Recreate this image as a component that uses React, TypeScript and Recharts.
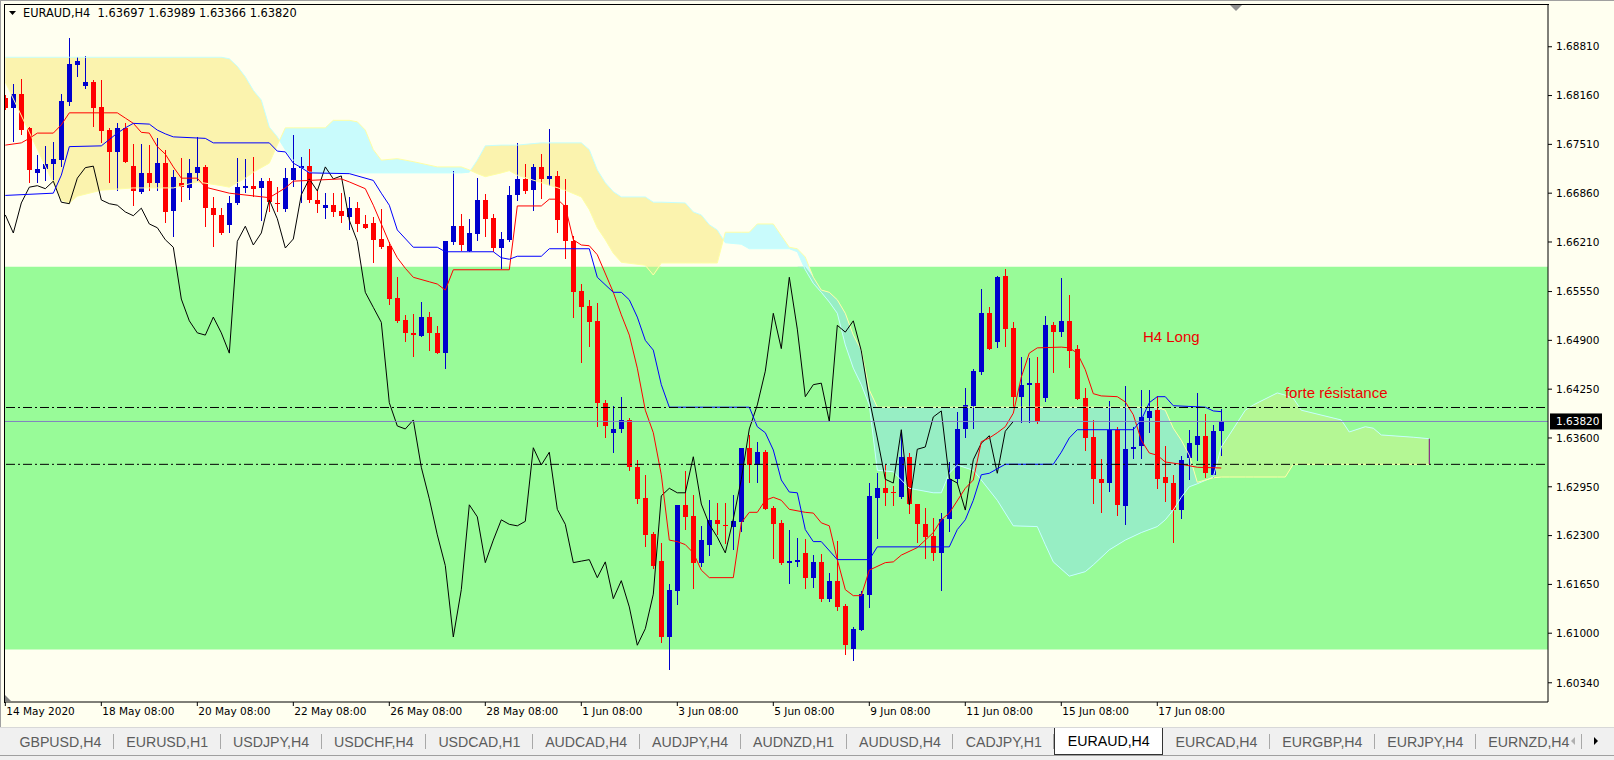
import React from "react";
import { ComposedChart, Bar, Line, Area, XAxis, YAxis, ReferenceDot, Label } from "recharts";

// EURAUD H4 candles, one per bar (index 0 = first visible bar)
const opens = [
  1.6813, 1.6799, 1.6818, 1.6773, 1.6713, 1.6718, 1.6725, 1.673, 1.6807, 1.6857,
  1.6829, 1.6834, 1.6801, 1.677, 1.6741, 1.6773, 1.6722, 1.6688, 1.6713, 1.67,
  1.6726, 1.6662, 1.67, 1.6693, 1.6713, 1.6721, 1.6666, 1.6657, 1.6644, 1.6673,
  1.6693, 1.6696, 1.6693, 1.6702, 1.6673, 1.6665, 1.6703, 1.672, 1.6722, 1.6677,
  1.6666, 1.667, 1.6662, 1.6654, 1.6666, 1.6645, 1.6646, 1.6625, 1.6616, 1.6546,
  1.6517, 1.65, 1.6496, 1.6521, 1.65, 1.6473, 1.6621, 1.6642, 1.6609, 1.6632,
  1.6677, 1.6653, 1.6613, 1.6623, 1.6684, 1.6705, 1.669, 1.6721, 1.6705, 1.6709,
  1.667, 1.6622, 1.6556, 1.6536, 1.6516, 1.6407, 1.6367, 1.6372, 1.6384, 1.6321,
  1.628, 1.6232, 1.6196, 1.6095, 1.6156, 1.6271, 1.6256, 1.6194, 1.6218, 1.6251,
  1.6244, 1.6241, 1.6248, 1.6347, 1.6324, 1.6341, 1.6267, 1.6247, 1.6194, 1.6195,
  1.6207, 1.6174, 1.6195, 1.6146, 1.617, 1.6136, 1.6079, 1.6104, 1.6151, 1.628,
  1.6293, 1.6288, 1.6281, 1.6335, 1.6272, 1.6245, 1.6229, 1.6207, 1.6252, 1.6305,
  1.6372, 1.6403, 1.6448, 1.6526, 1.6488, 1.6576, 1.6506, 1.6415, 1.6431, 1.6433,
  1.6413, 1.651, 1.6501, 1.6516, 1.6479, 1.6413, 1.6361, 1.6306, 1.63, 1.6371,
  1.6269, 1.6345, 1.6349, 1.6387, 1.6397, 1.6308, 1.63, 1.6264, 1.6333, 1.6351,
  1.6363, 1.6311, 1.63697,
];
const highs = [
  1.6817, 1.6831, 1.6838, 1.6774, 1.6737, 1.6749, 1.6754, 1.6818, 1.6893, 1.6867,
  1.6869, 1.6837, 1.6837, 1.6773, 1.6779, 1.6779, 1.6751, 1.6751, 1.675, 1.6759,
  1.6743, 1.6717, 1.6733, 1.6731, 1.6761, 1.6723, 1.6681, 1.6666, 1.6682, 1.6733,
  1.6731, 1.6734, 1.6706, 1.6706, 1.6694, 1.672, 1.6763, 1.6734, 1.6745, 1.669,
  1.6686, 1.6686, 1.6686, 1.6681, 1.6674, 1.6657, 1.6654, 1.6665, 1.6621, 1.6574,
  1.6524, 1.6525, 1.6541, 1.6528, 1.6509, 1.6622, 1.6715, 1.6658, 1.6652, 1.6706,
  1.6685, 1.6658, 1.6634, 1.6695, 1.6753, 1.6725, 1.6725, 1.6738, 1.6771, 1.6715,
  1.6705, 1.6629, 1.6565, 1.6544, 1.654, 1.6411, 1.6403, 1.6415, 1.6387, 1.6331,
  1.6311, 1.6235, 1.622, 1.6166, 1.6271, 1.6316, 1.6284, 1.6243, 1.6277, 1.6273,
  1.6273, 1.6284, 1.6347, 1.6364, 1.6355, 1.6344, 1.6269, 1.6251, 1.6238, 1.6227,
  1.6225, 1.6204, 1.6206, 1.618, 1.6223, 1.6139, 1.6108, 1.6156, 1.63, 1.6313,
  1.6324, 1.6296, 1.6369, 1.634, 1.6272, 1.6267, 1.6253, 1.626, 1.6328, 1.6395,
  1.6427, 1.6452, 1.6558, 1.6534, 1.6576, 1.6585, 1.6514, 1.6468, 1.6466, 1.6468,
  1.6522, 1.6514, 1.6573, 1.655, 1.6484, 1.6427, 1.6384, 1.6332, 1.6409, 1.6375,
  1.6429, 1.6375, 1.6424, 1.6424, 1.6416, 1.6349, 1.6311, 1.6336, 1.6371, 1.642,
  1.6392, 1.6377, 1.63989,
];
const lows = [
  1.6797, 1.6754, 1.6763, 1.67, 1.67, 1.6703, 1.6703, 1.6721, 1.6802, 1.6841,
  1.6825, 1.6774, 1.6753, 1.67, 1.6689, 1.6726, 1.6668, 1.6685, 1.6689, 1.6689,
  1.6646, 1.6628, 1.6674, 1.6677, 1.6703, 1.6641, 1.6614, 1.663, 1.6633, 1.667,
  1.6686, 1.6681, 1.6649, 1.6661, 1.6661, 1.6662, 1.6694, 1.6673, 1.6673, 1.666,
  1.6652, 1.6654, 1.6646, 1.6637, 1.6634, 1.6638, 1.6593, 1.6612, 1.6537, 1.6513,
  1.6488, 1.6468, 1.6494, 1.6476, 1.6472, 1.6452, 1.6617, 1.6609, 1.6608, 1.6622,
  1.6628, 1.6608, 1.6585, 1.662, 1.6676, 1.6685, 1.6662, 1.6678, 1.6695, 1.6632,
  1.6598, 1.652, 1.646, 1.6482, 1.6375, 1.6361, 1.634, 1.6367, 1.6317, 1.6272,
  1.6215, 1.6186, 1.6087, 1.6051, 1.6138, 1.6238, 1.6159, 1.6188, 1.6203, 1.6231,
  1.6219, 1.6211, 1.6235, 1.63, 1.6301, 1.6264, 1.6199, 1.6191, 1.6166, 1.6188,
  1.6159, 1.616, 1.6142, 1.6142, 1.613, 1.6071, 1.6063, 1.6103, 1.6134, 1.6225,
  1.6269, 1.6269, 1.6279, 1.6259, 1.622, 1.6199, 1.6196, 1.6156, 1.6235, 1.63,
  1.636, 1.6372, 1.6443, 1.6477, 1.648, 1.6481, 1.6401, 1.638, 1.6379, 1.6379,
  1.6408, 1.6446, 1.6494, 1.6453, 1.6411, 1.6343, 1.6272, 1.626, 1.6288, 1.6256,
  1.6244, 1.6332, 1.6332, 1.6367, 1.6292, 1.6275, 1.622, 1.6252, 1.6305, 1.6329,
  1.6307, 1.6307, 1.63366,
];
const closes = [
  1.6799, 1.6818, 1.677, 1.6717, 1.6718, 1.6725, 1.6731, 1.6809, 1.6858, 1.6862,
  1.6834, 1.6799, 1.6769, 1.6741, 1.6773, 1.6727, 1.6689, 1.6713, 1.67, 1.6726,
  1.6661, 1.6707, 1.6694, 1.6713, 1.6721, 1.6666, 1.6657, 1.6633, 1.6673, 1.6694,
  1.6696, 1.6692, 1.6702, 1.6674, 1.6672, 1.6706, 1.672, 1.6722, 1.6677, 1.6672,
  1.667, 1.6661, 1.6656, 1.6666, 1.6645, 1.664, 1.6624, 1.6614, 1.6545, 1.6516,
  1.65, 1.6497, 1.6521, 1.65, 1.6473, 1.6622, 1.6642, 1.6617, 1.6633, 1.6677,
  1.6652, 1.6613, 1.6625, 1.6684, 1.6705, 1.6689, 1.6721, 1.6705, 1.6709, 1.665,
  1.6622, 1.6554, 1.6534, 1.6514, 1.6407, 1.6376, 1.6372, 1.6384, 1.6321, 1.6279,
  1.6231, 1.619, 1.6095, 1.6158, 1.6271, 1.6255, 1.6194, 1.6224, 1.6251, 1.6245,
  1.6243, 1.6249, 1.6347, 1.6324, 1.6341, 1.6265, 1.6245, 1.6194, 1.6196, 1.6198,
  1.6174, 1.6195, 1.6146, 1.617, 1.6135, 1.6084, 1.6106, 1.6152, 1.6283, 1.6293,
  1.6287, 1.6287, 1.6335, 1.6272, 1.6245, 1.6228, 1.6207, 1.6252, 1.6305, 1.6372,
  1.6404, 1.6449, 1.6526, 1.6479, 1.6574, 1.6505, 1.6415, 1.6431, 1.6433, 1.6382,
  1.651, 1.6501, 1.6516, 1.6476, 1.6412, 1.636, 1.6305, 1.63, 1.6371, 1.6271,
  1.6345, 1.6348, 1.6388, 1.6396, 1.6306, 1.63, 1.6264, 1.6331, 1.6353, 1.6363,
  1.6313, 1.6369, 1.6382,
];

// Ichimoku tenkan-sen (red) and kijun-sen (blue), read at their turning points
const tenkanIdx = [
  0, 2, 3, 4, 6, 7, 8, 14, 15, 16, 17, 18, 19, 20, 21, 22, 24, 25, 28, 33, 35, 36, 42, 43, 45, 46,
  48, 49, 50, 51, 53, 54, 55, 56, 63, 64, 67, 68, 69, 70, 71, 72, 73, 74, 76, 77, 78, 79, 80, 81,
  82, 83, 84, 85, 86, 87, 88, 91, 92, 93, 94, 95, 96, 97, 98, 100, 101, 102, 103, 104, 105, 106,
  107, 108, 110, 111, 112, 114, 115, 116, 117, 118, 120, 121, 122, 123, 124, 125, 126, 127, 128,
  129, 132, 133, 134, 135, 136, 137, 139, 140, 141, 142, 143, 144, 145, 147, 149, 152,
];
const tenkanVal = [
  1.675, 1.6753, 1.6759, 1.6766, 1.6766, 1.6777, 1.6793, 1.6793, 1.6786, 1.6779, 1.6767, 1.6766,
  1.6748, 1.6738, 1.6721, 1.6706, 1.6706, 1.6694, 1.6686, 1.668, 1.6693, 1.6702, 1.6705, 1.6701,
  1.6692, 1.667, 1.662, 1.66, 1.6586, 1.6574, 1.6568, 1.6565, 1.6557, 1.6584, 1.6584, 1.6669,
  1.6669, 1.6678, 1.6678, 1.6668, 1.6624, 1.6617, 1.6616, 1.6604, 1.6554, 1.6524, 1.6497, 1.6453,
  1.6397, 1.6367, 1.6311, 1.6224, 1.6222, 1.6218, 1.6207, 1.6184, 1.6174, 1.6174, 1.6247, 1.6261,
  1.6261, 1.6277, 1.6281, 1.6277, 1.6265, 1.6261, 1.626, 1.6247, 1.6243, 1.6198, 1.6158, 1.615,
  1.615, 1.6184, 1.6194, 1.6195, 1.6204, 1.6214, 1.6224, 1.6234, 1.6251, 1.626, 1.6293, 1.6304,
  1.6355, 1.636, 1.6367, 1.6375, 1.6393, 1.6441, 1.6473, 1.648, 1.6481, 1.648, 1.6473, 1.6451,
  1.6419, 1.6416, 1.6415, 1.6408, 1.6391, 1.6357, 1.634, 1.6337, 1.6328, 1.6325, 1.6321, 1.632,
];
const kijunIdx = [
  0, 6, 7, 8, 12, 14, 15, 16, 18, 19, 20, 21, 25, 26, 33, 34, 35, 36, 37, 38, 43, 46, 47, 48, 49,
  51, 54, 55, 61, 62, 63, 64, 67, 68, 73, 74, 76, 77, 78, 79, 80, 81, 82, 83, 93, 94, 95, 96, 97,
  98, 99, 100, 101, 102, 104, 108, 109, 118, 119, 120, 121, 122, 123, 125, 131, 132, 133, 134,
  141, 142, 143, 144, 145, 146, 150, 151, 152,
];
const kijunVal = [
  1.6683, 1.6686, 1.671, 1.6748, 1.6749, 1.6766, 1.6773, 1.6779, 1.6778, 1.677, 1.6765, 1.6761,
  1.6759, 1.6753, 1.6753, 1.6742, 1.6741, 1.6726, 1.672, 1.6713, 1.6712, 1.6703, 1.6686, 1.667,
  1.6637, 1.6614, 1.6614, 1.6608, 1.6608, 1.66, 1.6598, 1.6602, 1.6602, 1.6612, 1.6612, 1.6574,
  1.6554, 1.6554, 1.6544, 1.6521, 1.649, 1.6477, 1.6431, 1.6401, 1.6401, 1.6375, 1.6367, 1.6344,
  1.6304, 1.6288, 1.6287, 1.6238, 1.6222, 1.6222, 1.6198, 1.6198, 1.6215, 1.6215, 1.6238, 1.6251,
  1.6277, 1.6311, 1.6313, 1.6325, 1.6325, 1.6341, 1.636, 1.6371, 1.6371, 1.6384, 1.6407, 1.6415,
  1.6415, 1.6403, 1.6401, 1.6396, 1.6395,
];

// Kumo (senkou span A / B), already shifted 26 bars ahead
const cloudIdx = [
  0, 3, 7, 8, 9, 12, 16, 21, 24, 27, 28, 29, 30, 31, 32, 33, 34, 35, 36, 37,
  38, 40, 41, 43, 44, 45, 46, 47, 49, 51, 54, 57, 58, 59, 60, 62, 63, 64, 67, 70,
  72, 73, 74, 75, 76, 77, 80, 81, 82, 85, 86, 87, 88, 89, 90, 92, 93, 94, 96, 98,
  99, 100, 101, 102, 103, 104, 105, 106, 107, 108, 109, 111, 113, 116, 117, 118, 119, 121, 122, 124,
  126, 129, 130, 131, 133, 135, 136, 138, 140, 142, 144, 145, 146, 147, 148, 149, 151, 152, 153, 155,
  156, 159, 160, 161, 162, 167, 168, 170, 171, 172, 176, 178,
];
const spanA = [
  1.6867, 1.6867, 1.6867, 1.6867, 1.6867, 1.6867, 1.6867, 1.6867, 1.6867, 1.6867,
  1.6865, 1.6855, 1.6841, 1.6823, 1.681, 1.6774, 1.6761, 1.6744, 1.673, 1.672,
  1.6714, 1.6713, 1.6713, 1.6713, 1.6713, 1.6713, 1.6713, 1.6713, 1.6713, 1.6713,
  1.6713, 1.6713, 1.6714, 1.673, 1.6749, 1.675, 1.675, 1.675, 1.6753, 1.6753,
  1.6753, 1.6744, 1.6717, 1.67, 1.6688, 1.6681, 1.6681, 1.6674, 1.6674, 1.6673,
  1.6661, 1.6657, 1.6644, 1.6637, 1.662, 1.6618, 1.6612, 1.6612, 1.6612, 1.6612,
  1.6608, 1.6584, 1.6566, 1.6554, 1.6541, 1.6526, 1.6484, 1.6453, 1.6431, 1.6404,
  1.6317, 1.6315, 1.6293, 1.6287, 1.6287, 1.6313, 1.6324, 1.6317, 1.6304, 1.6277,
  1.6243, 1.6242, 1.6218, 1.6195, 1.6176, 1.6182, 1.6191, 1.6211, 1.6224, 1.6234,
  1.6242, 1.6251, 1.6264, 1.6281, 1.6295, 1.6299, 1.6308, 1.6348, 1.6364, 1.6397,
  1.6404, 1.642, 1.6417, 1.6413, 1.6397, 1.6384, 1.6368, 1.6375, 1.6373, 1.6364,
  1.6361, 1.6359,
];
const spanB = [
  1.6834, 1.6767, 1.6677, 1.6673, 1.6682, 1.669, 1.6693, 1.6693, 1.6701, 1.6696,
  1.6694, 1.67, 1.6706, 1.6714, 1.672, 1.6726, 1.675, 1.6773, 1.6773, 1.6773,
  1.6773, 1.6773, 1.6783, 1.6783, 1.6781, 1.677, 1.6744, 1.673, 1.6732, 1.6728,
  1.6721, 1.6721, 1.6717, 1.6712, 1.6708, 1.6713, 1.6716, 1.671, 1.67, 1.669,
  1.6681, 1.6664, 1.664, 1.6624, 1.6606, 1.6594, 1.659, 1.6577, 1.6593, 1.6593,
  1.6593, 1.6593, 1.6593, 1.6593, 1.6634, 1.6634, 1.6634, 1.6645, 1.6645, 1.6614,
  1.6612, 1.6601, 1.6574, 1.6557, 1.6554, 1.6544, 1.6526, 1.6497, 1.6477, 1.6424,
  1.6401, 1.6401, 1.6401, 1.6401, 1.6401, 1.6401, 1.6401, 1.6401, 1.6401, 1.6401,
  1.6401, 1.6401, 1.6401, 1.6401, 1.6401, 1.6401, 1.6401, 1.6401, 1.6401, 1.6401,
  1.6401, 1.6397, 1.6373, 1.6357, 1.6337, 1.6301, 1.6307, 1.6308, 1.6308, 1.6308,
  1.6308, 1.6308, 1.6308, 1.6325, 1.6325, 1.6325, 1.6325, 1.6325, 1.6325, 1.6325,
  1.6325, 1.6325,
];

const xTickIdx = [0, 12, 24, 36, 48, 60, 72, 84, 96, 108, 120, 132, 144];
const xTickLabels = [
  "14 May 2020", "18 May 08:00", "20 May 08:00", "22 May 08:00", "26 May 08:00", "28 May 08:00",
  "1 Jun 08:00", "3 Jun 08:00", "5 Jun 08:00", "9 Jun 08:00", "11 Jun 08:00", "15 Jun 08:00", "17 Jun 08:00",
];
const priceTicks = [
  1.6034, 1.61, 1.6165, 1.623, 1.6295, 1.636, 1.6425, 1.649, 1.6555, 1.6621, 1.6686, 1.6751, 1.6816, 1.6881,
];

const zoneLow = 1.60783;
const zoneHigh = 1.65881;
const resistHigh = 1.64006;
const resistLow = 1.63249;
const bid = 1.6382;

const symbolTabs = [
  "GBPUSD,H4", "EURUSD,H1", "USDJPY,H4", "USDCHF,H4", "USDCAD,H1", "AUDCAD,H4", "AUDJPY,H4", "AUDNZD,H1",
  "AUDUSD,H4", "CADJPY,H1", "EURAUD,H4", "EURCAD,H4", "EURGBP,H4", "EURJPY,H4", "EURNZD,H4",
];
const activeTab = "EURAUD,H4";

const FONT = '"DejaVu Sans", Tahoma, sans-serif';
const BG = "#FFFFF0";
const ZONE = "#98FB98";
const BULL = "#0000CD";
const BEAR = "#FF0000";
const KUMO_UP = "#FBF3AE";
const KUMO_DN = "#C9FBFC";
const KUMO_UP_Z = "#B4F794";
const KUMO_DN_Z = "#97EEC4";

const X_DOMAIN = [-0.04, 192.84];
const Y_DOMAIN = [1.60084, 1.69366];

const rows = opens.map((o, i) => ({
  i,
  o,
  h: highs[i],
  l: lows[i],
  c: closes[i],
  range: [lows[i], highs[i]],
  chikou: i + 26 < closes.length ? closes[i + 26] : null,
}));

const tenkanData = tenkanIdx.map((i, k) => ({ i, v: tenkanVal[k] }));
const kijunData = kijunIdx.map((i, k) => ({ i, v: kijunVal[k] }));
const cloudPts = cloudIdx.map((i, k) => ({ i, a: spanA[k], b: spanB[k] }));
const wide = (v: number) => [{ i: X_DOMAIN[0] - 2, v }, { i: X_DOMAIN[1] + 2, v }];
const zoneData = [
  { i: X_DOMAIN[0] - 2, band: [zoneLow, zoneHigh] },
  { i: X_DOMAIN[1] + 2, band: [zoneLow, zoneHigh] },
];
const lastCloud = cloudPts[cloudPts.length - 1];
const cloudEnd = [{ i: lastCloud.i, v: lastCloud.a }, { i: lastCloud.i, v: lastCloud.b }];

// split the kumo where the spans cross, so each part gets its own colour
function kumoSegments() {
  const segs: { up: boolean; pts: { i: number; a: number; b: number }[] }[] = [];
  let cur: any = null;
  cloudPts.forEach((p, k) => {
    const up = p.a >= p.b;
    if (!cur) {
      cur = { up, pts: [p] };
      segs.push(cur);
      return;
    }
    if (up !== cur.up) {
      const q = cloudPts[k - 1];
      const d0 = q.a - q.b;
      const d1 = p.a - p.b;
      const t = d0 / (d0 - d1);
      const v = q.a + t * (p.a - q.a);
      const x = { i: q.i + t * (p.i - q.i), a: v, b: v };
      cur.pts.push(x);
      cur = { up, pts: [x, p] };
      segs.push(cur);
    } else cur.pts.push(p);
  });
  return segs.map((s) => ({
    up: s.up,
    data: s.pts.map((p) => {
      const lo = Math.min(p.a, p.b);
      const hi = Math.max(p.a, p.b);
      return { i: p.i, band: [lo, hi], inner: [Math.min(lo, zoneHigh), Math.min(hi, zoneHigh)] };
    }),
  }));
}
const kumo = kumoSegments();

const Candle = (props: any) => {
  const { x, y, width, height, payload } = props;
  const top = Math.min(y, y + height);
  const hgt = Math.abs(height);
  const { o, h, l, c } = payload;
  const color = c >= o ? BULL : BEAR;
  const col = Math.floor(x + width / 2 + 0.5);
  const span = h - l || 1e-9;
  const yO = top + ((h - o) / span) * hgt;
  const yC = top + ((h - c) / span) * hgt;
  const b0 = Math.round(Math.min(yO, yC));
  const b1 = Math.round(Math.max(yO, yC));
  return (
    <g>
      <rect x={col} y={Math.round(top)} width={1} height={Math.max(1, Math.round(hgt))} fill={color} />
      <rect x={col - 2} y={b0} width={5} height={Math.max(1, b1 - b0)} fill={color} />
    </g>
  );
};

const XTick = (props: any) => {
  const { x, y, payload } = props;
  const k = xTickIdx.indexOf(payload.value);
  return (
    <text x={x + 1} y={y} dy="0.71em" textAnchor="start" fontSize={10.5} fontFamily={FONT} fill="#000">
      {xTickLabels[k]}
    </text>
  );
};

const chartText = (text: string) => (props: any) => {
  const vb = props.viewBox || {};
  return (
    <text x={vb.x} y={vb.y} dominantBaseline="central" fontSize={15}
      fontFamily='"Liberation Sans", Arial, sans-serif' fill="#F00000">
      {text}
    </text>
  );
};

const bidBox = (props: any) => {
  const vb = props.viewBox || {};
  return (
    <g>
      <rect x={vb.x + 2} y={vb.y - 8} width={52} height={16} fill="#000" />
      <text x={vb.x + 8} y={vb.y} dominantBaseline="central" fontSize={10.5} fontFamily={FONT} fill="#fff">
        {bid.toFixed(5)}
      </text>
    </g>
  );
};

export default function App() {
  return (
    <div style={{ position: "absolute", left: 0, top: 0, width: 1614, height: 760, background: BG, overflow: "hidden" }}>
      <ComposedChart width={1614} height={726} data={rows} margin={{ top: 5, right: 0, bottom: 0, left: 5 }}>
        <XAxis dataKey="i" type="number" domain={X_DOMAIN} allowDataOverflow ticks={xTickIdx} interval={0}
          height={24} tickSize={4} tickMargin={2} axisLine={{ stroke: "#000" }} tickLine={{ stroke: "#000" }}
          tick={<XTick />} />
        <YAxis orientation="right" type="number" domain={Y_DOMAIN} allowDataOverflow ticks={priceTicks} interval={0}
          width={66} tickSize={4} tickMargin={4} axisLine={{ stroke: "#000" }} tickLine={{ stroke: "#000" }}
          tick={{ fontSize: 10.5, fill: "#000", fontFamily: FONT }} tickFormatter={(v: number) => v.toFixed(5)} />

        <Area data={zoneData} dataKey="band" stroke="none" fill={ZONE} fillOpacity={1} isAnimationActive={false}
          dot={false} activeDot={false} />
        {kumo.map((s, k) => (
          <Area key={"k" + k} data={s.data} dataKey="band" type="linear" stroke="none"
            fill={s.up ? KUMO_UP : KUMO_DN} fillOpacity={1} isAnimationActive={false} dot={false} activeDot={false} />
        ))}
        {kumo.map((s, k) => (
          <Area key={"z" + k} data={s.data} dataKey="inner" type="linear" stroke="none"
            fill={s.up ? KUMO_UP_Z : KUMO_DN_Z} fillOpacity={1} isAnimationActive={false} dot={false} activeDot={false} />
        ))}
        <Line data={cloudPts} dataKey="a" type="linear" stroke="#C4FFFF" strokeWidth={1} dot={false} activeDot={false}
          isAnimationActive={false} />
        <Line data={cloudPts} dataKey="b" type="linear" stroke="#FFFFA6" strokeWidth={1} dot={false} activeDot={false}
          isAnimationActive={false} />
        <Line data={cloudEnd} dataKey="v" stroke="#800080" strokeWidth={1} dot={false} activeDot={false}
          isAnimationActive={false} />

        <Bar dataKey="range" barSize={5} shape={<Candle />} isAnimationActive={false} />

        <Line dataKey="chikou" type="linear" stroke="#000" strokeWidth={1} dot={false} activeDot={false}
          isAnimationActive={false} />
        <Line data={tenkanData} dataKey="v" type="linear" stroke="#FF0000" strokeWidth={1} dot={false}
          activeDot={false} isAnimationActive={false} />
        <Line data={kijunData} dataKey="v" type="linear" stroke="#0000FF" strokeWidth={1} dot={false}
          activeDot={false} isAnimationActive={false} />

        <Line data={wide(resistHigh)} dataKey="v" stroke="#000" strokeWidth={1} strokeDasharray="9 3 2 3"
          dot={false} activeDot={false} isAnimationActive={false} />
        <Line data={wide(resistLow)} dataKey="v" stroke="#000" strokeWidth={1} strokeDasharray="9 3 2 3"
          dot={false} activeDot={false} isAnimationActive={false} />
        <Line data={wide(bid)} dataKey="v" stroke="#8080C0" strokeWidth={1} dot={false} activeDot={false}
          isAnimationActive={false} />

        <ReferenceDot x={142.2} y={1.64958} r={0} stroke="none" fill="none">
          <Label content={chartText("H4 Long")} />
        </ReferenceDot>
        <ReferenceDot x={159.96} y={1.64199} r={0} stroke="none" fill="none">
          <Label content={chartText("forte résistance")} />
        </ReferenceDot>
        <ReferenceDot x={X_DOMAIN[1]} y={bid} r={0} stroke="none" fill="none" ifOverflow="visible">
          <Label content={bidBox} />
        </ReferenceDot>
      </ComposedChart>

      {/* frame top / left, window edge */}
      <div style={{ position: "absolute", left: 4, top: 4, width: 1544, height: 698, borderTop: "1px solid #000",
        borderLeft: "1px solid #000", pointerEvents: "none" }} />
      <div style={{ position: "absolute", left: 0, top: 0, width: 1614, height: 1, background: "#A0A0A0" }} />
      <div style={{ position: "absolute", left: 0, top: 0, width: 1, height: 727, background: "#A0A0A0" }} />

      <svg style={{ position: "absolute", left: 0, top: 0 }} width={1614} height={726}>
        <polygon points="9,11 16,11 12.5,15" fill="#000" />
        <polygon points="1230,5 1242,5 1236,11" fill="#909090" />
        <polygon points="5,695 5,701 11,701" fill="#808080" />
      </svg>
      <div style={{ position: "absolute", left: 23, top: 6, fontFamily: FONT, fontSize: 11.4, color: "#000",
        whiteSpace: "pre", lineHeight: "14px" }}>
        {"EURAUD,H4  1.63697 1.63989 1.63366 1.63820"}
      </div>

      {/* symbol tabs */}
      <div style={{ position: "absolute", left: 0, top: 727, width: 1614, height: 29, background: "#F0F0F0",
        borderTop: "1px solid #D8D8D8", borderBottom: "1px solid #A0A0A0", boxSizing: "border-box" }}>
        <div style={{ position: "absolute", left: 7, top: 0, width: 1575, height: 27, display: "flex", overflow: "hidden" }}>
          {symbolTabs.map((t) => {
            const on = t === activeTab;
            return (
              <div key={t} style={{ position: "relative", height: 27, padding: "0 12.4px", display: "flex",
                alignItems: "center", flex: "none", background: on ? "#fff" : "transparent",
                border: on ? "1px solid #333" : "none", borderTop: "none", boxSizing: "border-box",
                fontFamily: '"Liberation Sans", Arial, sans-serif', fontSize: 14.2, color: on ? "#000" : "#5c5c5c" }}>
                {t}
                {!on && <div style={{ position: "absolute", right: 0, top: 6, bottom: 6, width: 1, background: "#A8A8A8" }} />}
              </div>
            );
          })}
        </div>
        <svg style={{ position: "absolute", left: 1560, top: 0 }} width={54} height={27}>
          <polygon points="15,9 15,17 11,13" fill="#B0B0B0" />
          <polygon points="34,9 34,17 38,13" fill="#000" />
        </svg>
      </div>
      <div style={{ position: "absolute", left: 0, top: 756, width: 1614, height: 4, background: "#F0F0F0" }} />
    </div>
  );
}
